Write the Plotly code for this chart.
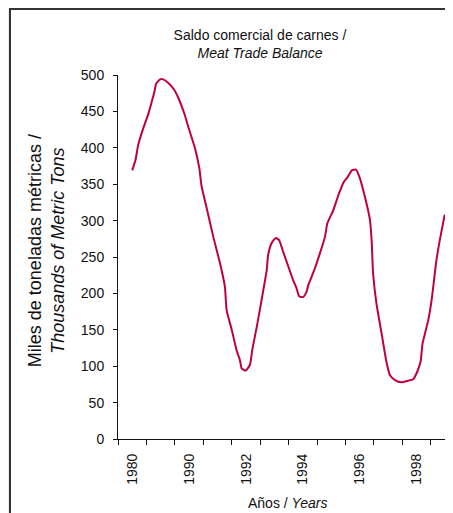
import plotly.graph_objects as go

# decimal year positions and values (thousands of metric tons)
years = [1988.00, 1988.12, 1988.21, 1988.39, 1988.57, 1988.72, 1988.78, 1988.84,
         1988.98, 1989.09, 1989.27, 1989.47, 1989.65, 1989.85, 1989.97, 1990.21,
         1990.36, 1990.44, 1990.62, 1990.85, 1991.09, 1991.26, 1991.32, 1991.50,
         1991.67, 1991.79, 1991.85, 1991.99, 1992.14, 1992.22, 1992.38, 1992.55,
         1992.73, 1992.78, 1992.90, 1993.05, 1993.17, 1993.31, 1993.49, 1993.66,
         1993.78, 1993.87, 1994.01, 1994.13, 1994.19, 1994.42, 1994.60, 1994.78,
         1994.86, 1995.07, 1995.19, 1995.30, 1995.44, 1995.58, 1995.72, 1995.87,
         1995.99, 1996.18, 1996.36, 1996.42, 1996.47, 1996.59, 1996.77, 1996.94,
         1997.06, 1997.24, 1997.47, 1997.70, 1997.88, 1998.02, 1998.14, 1998.21,
         1998.41, 1998.53, 1998.70, 1998.84, 1998.99]
balance = [369, 384, 404, 427, 447, 468, 477, 488,
           494, 494, 489, 480, 466, 445, 429, 399,
           372, 347, 317, 278, 241, 209, 177, 150,
           122, 108, 97, 94, 102, 122, 154, 191,
           232, 253, 269, 276, 273, 257, 237, 218,
           207, 196, 195, 202, 211, 234, 255, 278,
           296, 314, 328, 340, 353, 360, 369, 370,
           360, 333, 301, 273, 228, 186, 145, 106,
           88, 81, 78, 80, 82, 92, 106, 131,
           163, 191, 246, 278, 308]

tick_pos = [1988, 1990, 1992, 1994, 1996, 1998]
tick_text = ["1980", "1990", "1992", "1994", "1996", "1998"]
boundaries = [1987.5 + i for i in range(12)]

font = "Liberation Sans, Arial, sans-serif"

# page body has an 8px margin, so the figure is a bit smaller and shifted
W, H = 437, 505
L, T, B = 110, 67, 505 - 431
PW, PH = W - L, 431 - T

fig = go.Figure(go.Scatter(
    x=years, y=balance, mode="lines",
    line=dict(color="#c0003c", width=2, shape="spline", smoothing=0.5),
    hoverinfo="skip", cliponaxis=False,
))

fig.update_layout(
    width=W, height=H,
    margin=dict(l=L, r=0, t=T, b=B),
    paper_bgcolor="#f5ece1",
    plot_bgcolor="rgba(0,0,0,0)",
    showlegend=False,
    font=dict(family=font, size=14, color="#111"),
    title=dict(
        text="Saldo comercial de carnes /<br><i>Meat Trade Balance</i>",
        x=252 / W, xanchor="center", y=1 - 32 / H, yanchor="middle",
        font=dict(size=14),
    ),
    shapes=[dict(
        type="rect", xref="paper", yref="paper",
        x0=(2 - L) / PW, x1=1.2, y0=-0.4, y1=(431 - 1) / PH,
        fillcolor="white", line=dict(color="#333", width=2), layer="below",
    )],
    annotations=[
        dict(text="Miles de toneladas métricas /<br><i>Thousands of Metric Tons</i>",
             xref="paper", yref="paper", x=(38 - L) / PW, y=0.516,
             textangle=-90, showarrow=False, font=dict(size=18),
             xanchor="center", yanchor="middle"),
        dict(text="Años / <i>Years</i>",
             xref="paper", yref="paper", x=(279 - L) / PW, y=(431 - 495) / PH,
             showarrow=False, font=dict(size=14),
             xanchor="center", yanchor="middle"),
    ],
)

fig.update_xaxes(
    range=[1987.5, 1999.0],
    tickmode="array", tickvals=tick_pos, ticktext=tick_text,
    tickangle=-90, ticks="", ticklabelstandoff=8,
    minor=dict(tickmode="array", tickvals=boundaries, ticks="outside",
               ticklen=5, tickcolor="#111", showgrid=False),
    showline=True, linecolor="#111", linewidth=1,
    showgrid=False, zeroline=False, fixedrange=True,
)
fig.update_yaxes(
    range=[0, 500], tickmode="linear", tick0=0, dtick=50,
    ticks="outside", ticklen=4, tickcolor="#111", ticklabelstandoff=6,
    showline=True, linecolor="#111", linewidth=1,
    showgrid=False, zeroline=False, fixedrange=True,
)

fig.write_html("out.html")
